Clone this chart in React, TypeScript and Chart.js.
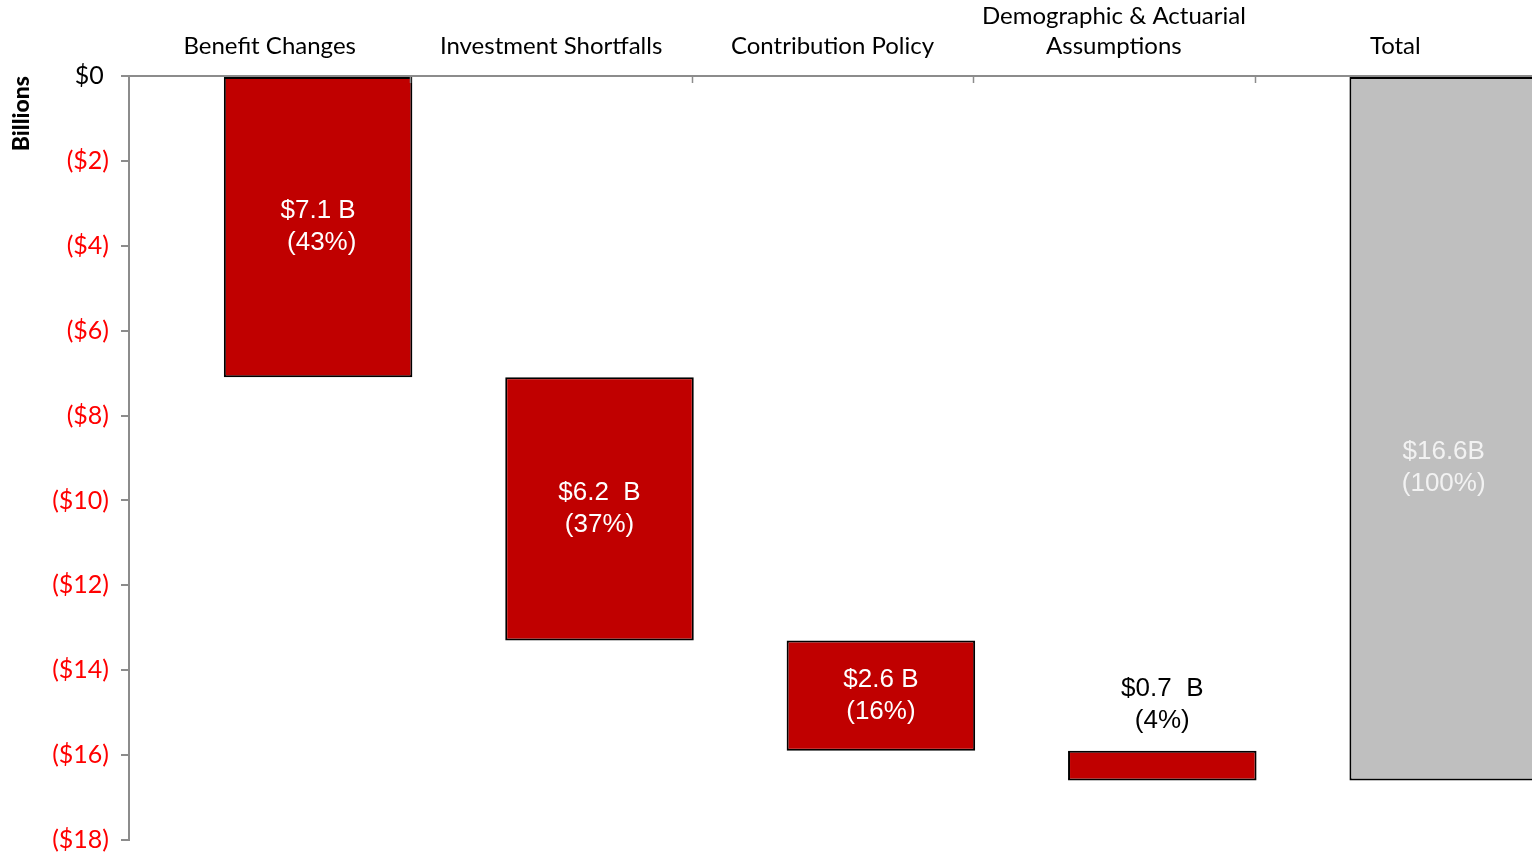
import React, { useEffect, useRef } from "react";
import { Chart, registerables } from "chart.js";

Chart.register(...registerables);

// ---- data ----
const categories: (string | string[])[] = [
  "Benefit Changes",
  "Investment Shortfalls",
  "Contribution Policy",
  ["Demographic & Actuarial", "Assumptions"],
  "Total",
];
const amounts = [7.1, 6.2, 2.6, 0.7, 16.6]; // $ billions
const isTotal = [false, false, false, false, true];
const amountLabels = ["$7.1 B", "$6.2  B", "$2.6 B", "$0.7  B", "$16.6B"];
const shareLabels = [" (43%)", "(37%)", "(16%)", "(4%)", "(100%)"];
const yMin = -18;
const yMax = 0;
const yStep = 2;

// floating ranges built from the amounts (running waterfall)
const ranges: [number, number][] = (() => {
  let run = 0;
  return amounts.map((a, i) => {
    if (isTotal[i]) return [0, -a] as [number, number];
    const r: [number, number] = [-run, -(run + a)];
    run += a;
    return r;
  });
})();

const RED = "#C00000";
const GREY = "#BFBFBF";
const AXIS = "#8C8C8C";
const AXIS_FONT = "Lato, 'Open Sans', sans-serif";
const LABEL_FONT = "'Liberation Sans', Arial, sans-serif";
const SHIFT = 0.172; // bars sit in the right part of each category

const labelPlugin = {
  id: "waterfallLabels",
  afterDatasetsDraw(chart: any) {
    const ctx = chart.ctx;
    const meta = chart.getDatasetMeta(0);
    ctx.save();
    ctx.font = `26px ${LABEL_FONT}`;
    ctx.textAlign = "center";
    ctx.textBaseline = "middle";
    const lh = 32;
    meta.data.forEach((bar: any, i: number) => {
      const p = bar.getProps(["x", "y", "base"], true);
      const top = Math.min(p.y, p.base);
      const bottom = Math.max(p.y, p.base);
      const h = bottom - top;
      let c1: number;
      let color: string;
      if (h < 2.5 * lh) {
        c1 = top - 62;
        color = "#000000";
      } else {
        const mid = (top + bottom) / 2 + (isTotal[i] ? 39 : 0);
        c1 = mid - lh / 2;
        color = isTotal[i] ? "#F2F2F2" : "#FFFFFF";
      }
      ctx.fillStyle = color;
      ctx.fillText(amountLabels[i], p.x, c1);
      ctx.fillText(shareLabels[i], p.x, c1 + lh);
    });
    ctx.restore();
  },
  afterDraw(chart: any) {
    // short category separator marks hanging below the top axis
    const { ctx, chartArea } = chart;
    const n = categories.length;
    const w = (chartArea.right - chartArea.left) / n;
    ctx.save();
    ctx.strokeStyle = AXIS;
    ctx.lineWidth = 1.5;
    for (let i = 1; i < n; i++) {
      const x = Math.round(chartArea.left + i * w) + 0.5;
      ctx.beginPath();
      ctx.moveTo(x, chartArea.top);
      ctx.lineTo(x, chartArea.top + 7);
      ctx.stroke();
    }
    ctx.restore();
  },
};

export default function App() {
  const ref = useRef<HTMLCanvasElement | null>(null);

  useEffect(() => {
    if (!ref.current) return;
    const chart = new Chart(ref.current, {
      type: "bar",
      data: {
        labels: categories as any,
        datasets: [
          {
            data: ranges.map((r, i) => ({ x: i, y: r })) as any,
            xAxisID: "xb",
            yAxisID: "y",
            backgroundColor: isTotal.map((t) => (t ? GREY : RED)),
            borderColor: "#000000",
            borderWidth: 2,
            borderSkipped: false,
            categoryPercentage: 1,
            barPercentage: 0.67,
          },
        ],
      },
      options: {
        responsive: false,
        animation: false,
        devicePixelRatio: 1,
        layout: { padding: { left: 0, right: 9, top: 0, bottom: 16 } },
        plugins: {
          legend: { display: false },
          tooltip: { enabled: false },
        },
        scales: {
          x: {
            type: "category",
            position: "top",
            labels: categories as any,
            offset: true,
            grid: { display: false, drawTicks: false },
            border: { display: true, color: AXIS, width: 2 },
            ticks: {
              color: "#000000",
              font: { family: AXIS_FONT, size: 24, lineHeight: 1.25 },
              padding: 15,
              maxRotation: 0,
              autoSkip: false,
            },
            afterFit: (s: any) => {
              s.height = 76;
            },
          },
          xb: {
            type: "linear",
            display: false,
            offset: false,
            grid: { offset: false },
            min: -0.5 - SHIFT,
            max: categories.length - 0.5 - SHIFT,
            afterBuildTicks: (s: any) => {
              s.ticks = categories.map((_, i) => ({ value: i }));
            },
          },
          y: {
            type: "linear",
            position: "left",
            min: yMin,
            max: yMax,
            ticks: {
              stepSize: yStep,
              padding: 12,
              font: { family: AXIS_FONT, size: 25 },
              color: (c: any) => (c.tick.value === 0 ? "#000000" : "#FF0000"),
              callback: (v: any) =>
                Number(v) === 0 ? "$0\u2008" : `($${Math.abs(Number(v))})`,
            },
            grid: {
              drawOnChartArea: false,
              drawTicks: true,
              tickLength: 8,
              color: AXIS,
              lineWidth: 2,
            },
            border: { display: true, color: AXIS, width: 2 },
            title: {
              display: true,
              text: "Billions",
              align: "end",
              color: "#000000",
              font: { family: AXIS_FONT, size: 23, weight: "900" },
              padding: { top: 8, bottom: 0 },
            },
            afterFit: (s: any) => {
              s.width = 129;
              s.paddingTop = 0;
              s.paddingBottom = 0;
            },
          },
        },
      },
      plugins: [labelPlugin],
    });
    return () => chart.destroy();
  }, []);

  return (
    <div
      style={{
        position: "fixed",
        left: 0,
        top: 0,
        width: 1532,
        height: 856,
        overflow: "hidden",
        background: "#FFFFFF",
      }}
    >
      <canvas
        ref={ref}
        width={1545}
        height={856}
        style={{ width: 1545, height: 856, display: "block" }}
      />
    </div>
  );
}
